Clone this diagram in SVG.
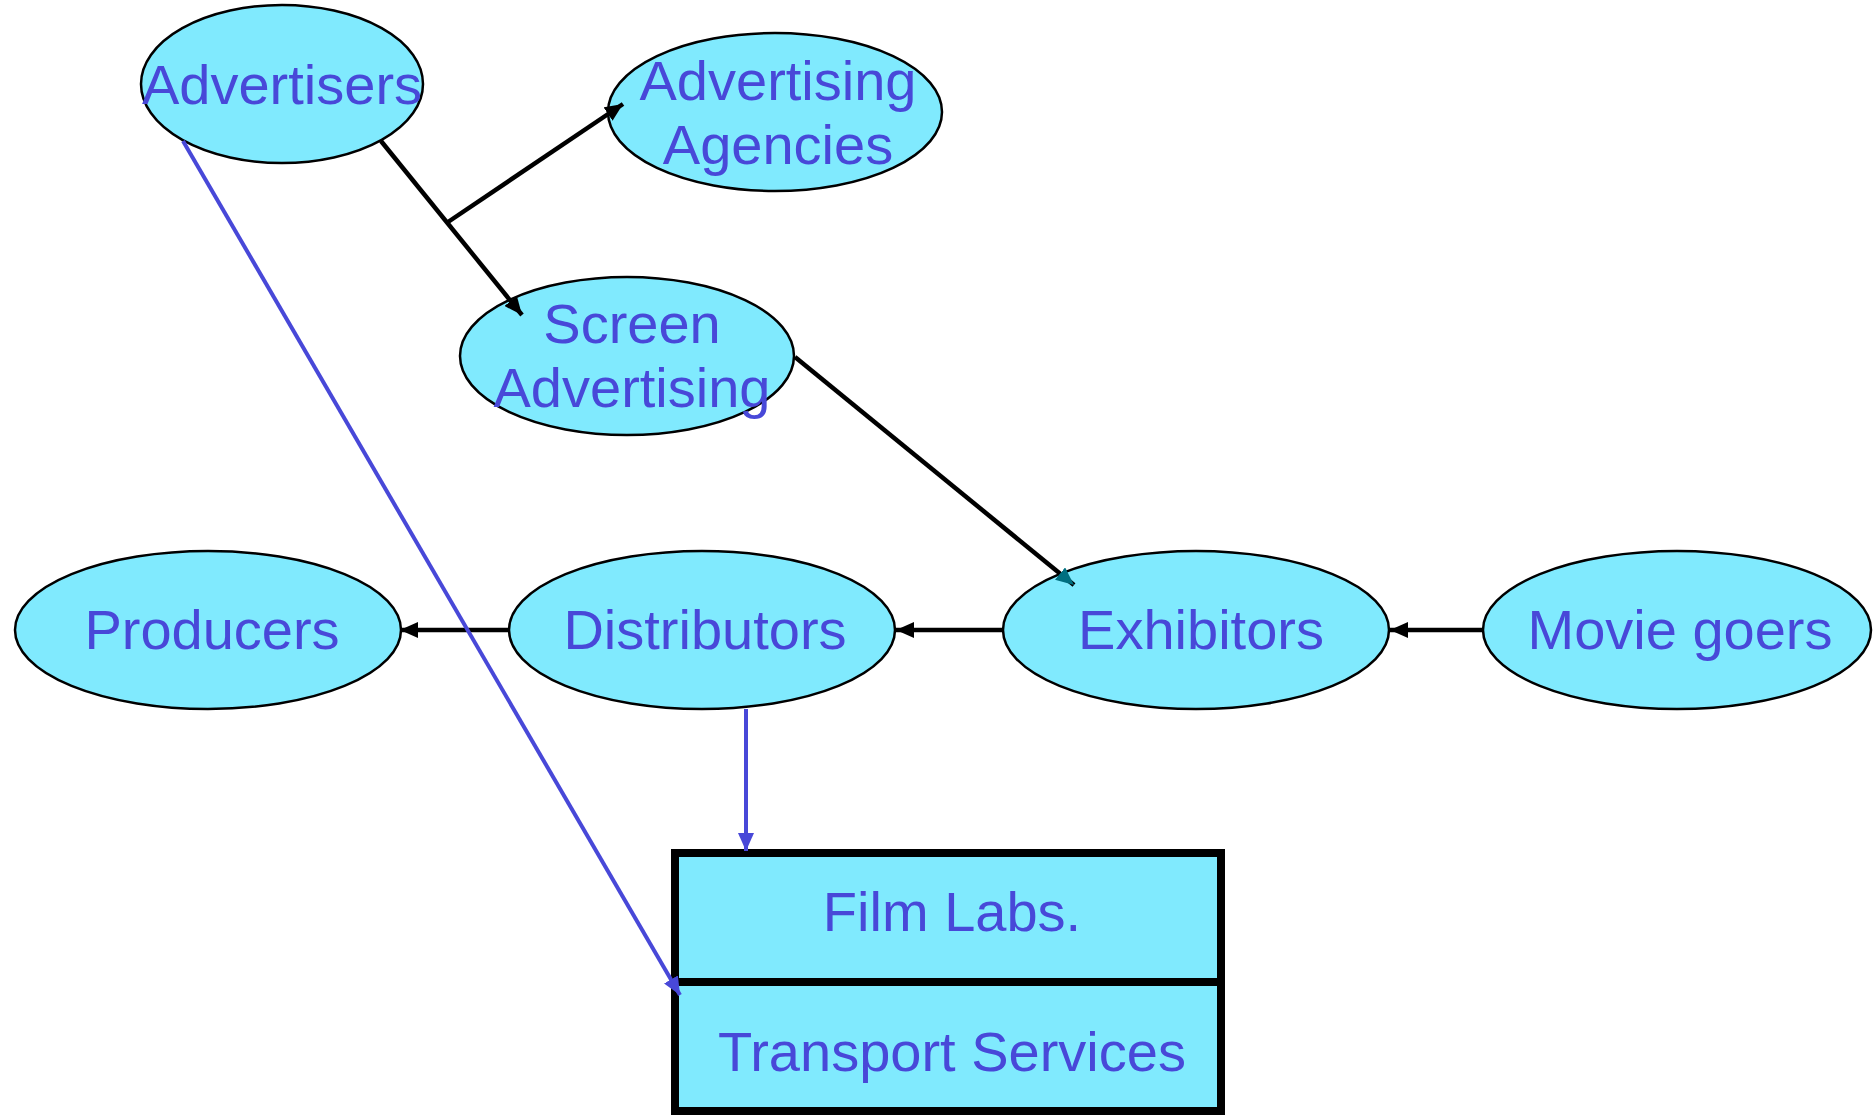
<svg xmlns="http://www.w3.org/2000/svg" width="1874" height="1117" viewBox="0 0 1874 1117">
<style>
.node ellipse{fill:#80EAFE;stroke:#000;stroke-width:2.5}
.box{fill:#80EAFE;stroke:#000;stroke-width:8}
.lbl{font-family:"Liberation Sans",Arial,sans-serif;font-size:56px;fill:#4848D8;text-anchor:middle}
.blk{stroke:#000;stroke-width:4.5;fill:none}
.blu{stroke:#4848D8;stroke-width:4;fill:none}
</style>
<defs>
<marker id="ab" markerUnits="userSpaceOnUse" markerWidth="18" markerHeight="16" refX="18" refY="8" orient="auto"><path d="M0,0 L18,8 L0,16 z" fill="#000"/></marker>
<marker id="at" markerUnits="userSpaceOnUse" markerWidth="18" markerHeight="16" refX="18" refY="8" orient="auto"><path d="M0,0 L18,8 L0,16 z" fill="#006F80"/></marker>
<marker id="au" markerUnits="userSpaceOnUse" markerWidth="18" markerHeight="16" refX="18" refY="8" orient="auto"><path d="M0,0 L18,8 L0,16 z" fill="#4848D8"/></marker>
</defs>
<g id="advertisers" class="node"><ellipse cx="282" cy="84" rx="141" ry="79"/><text class="lbl" x="282" y="104">Advertisers</text></g>
<g id="agencies" class="node"><ellipse cx="775" cy="112" rx="167" ry="79"/><text class="lbl" x="778" y="100">Advertising</text><text class="lbl" x="778" y="164">Agencies</text></g>
<g id="screen" class="node"><ellipse cx="627" cy="356" rx="167" ry="79"/><text class="lbl" x="632" y="343">Screen</text><text class="lbl" x="632" y="407">Advertising</text></g>
<g id="producers" class="node"><ellipse cx="208" cy="630" rx="193" ry="79"/><text class="lbl" x="212" y="649">Producers</text></g>
<g id="distributors" class="node"><ellipse cx="702" cy="630" rx="193" ry="79"/><text class="lbl" x="705" y="649">Distributors</text></g>
<g id="exhibitors" class="node"><ellipse cx="1196" cy="630" rx="193" ry="79"/><text class="lbl" x="1201" y="649">Exhibitors</text></g>
<g id="moviegoers" class="node"><ellipse cx="1677" cy="630" rx="194" ry="79"/><text class="lbl" x="1680" y="649">Movie goers</text></g>
<g id="services"><rect class="box" x="675" y="853" width="546" height="258"/><line x1="675" y1="982" x2="1221" y2="982" stroke="#000" stroke-width="8"/><text class="lbl" x="952" y="931">Film Labs.</text><text class="lbl" x="952" y="1071">Transport Services</text></g>
<g id="connectors">
<path class="blk" d="M381,141 L522,315" marker-end="url(#ab)"/>
<path class="blk" d="M448,222 L623,104" marker-end="url(#ab)"/>
<path class="blk" d="M795,357 L1074,585" marker-end="url(#at)"/>
<path class="blk" d="M1003,630 L896,630" marker-end="url(#ab)"/>
<path class="blk" d="M509,630 L400,630" marker-end="url(#ab)"/>
<path class="blk" d="M1483,630 L1390,630" marker-end="url(#ab)"/>
<path class="blu" d="M746,709 L746,851" marker-end="url(#au)"/>
<path class="blu" d="M183,141 L680,995" marker-end="url(#au)"/>
</g>
</svg>
